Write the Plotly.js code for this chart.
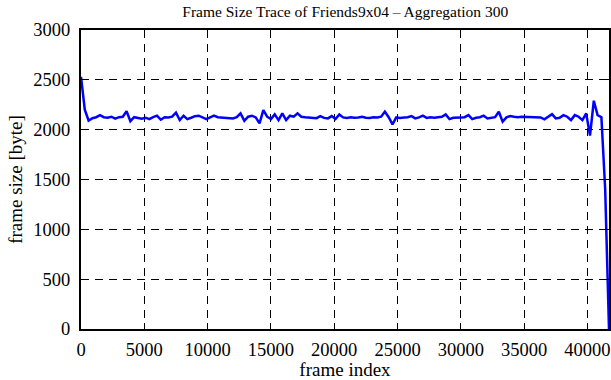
<!DOCTYPE html>
<html>
<head>
<meta charset="utf-8">
<script src="https://cdn.plot.ly/plotly-3.0.1.min.js"></script>
<style>html,body{margin:0;padding:0;background:#fff;}#chart{width:611px;height:380px;}</style>
</head>
<body>
<div id="chart"></div>
<script>
// Aggregated frame size trace (aggregation of 300 frames)
const aggregation = 300;
const frameSizes = [
  2530, 2200, 2090, 2115, 2125, 2145, 2125, 2120, 2130, 2110,
  2125, 2130, 2185, 2085, 2125, 2120, 2110, 2120, 2105, 2125,
  2140, 2100, 2125, 2123, 2130, 2170, 2096, 2140, 2106, 2120,
  2135, 2140, 2123, 2106, 2123, 2140, 2125, 2123, 2118, 2120,
  2113, 2125, 2163, 2088, 2130, 2140, 2123, 2063, 2196, 2130,
  2106, 2153, 2096, 2163, 2096, 2140, 2130, 2163, 2130, 2125,
  2120, 2120, 2115, 2136, 2118, 2113, 2136, 2106, 2153, 2123,
  2118, 2125, 2120, 2123, 2130, 2120, 2118, 2125, 2123, 2130,
  2180, 2125, 2053, 2123, 2118, 2123, 2125, 2136, 2113, 2123,
  2140, 2118, 2125, 2120, 2123, 2130, 2153, 2106, 2120, 2118,
  2123, 2125, 2146, 2106, 2120, 2125, 2140, 2113, 2120, 2125,
  2180, 2080, 2123, 2136, 2130, 2125, 2130, 2128, 2130, 2125,
  2128, 2123, 2103, 2130, 2156, 2113, 2120, 2146, 2130, 2096,
  2146, 2130, 2096, 2163, 1940, 2290, 2146, 2125, 1400, 0
];
const frameIndex = frameSizes.map((_, i) => i * aggregation);

const titleText = 'Frame Size Trace of Friends9x04 \u2013 Aggregation 300';
const xTitle = 'frame index';
const yTitle = 'frame size [byte]';
const xTicks = [0, 5000, 10000, 15000, 20000, 25000, 30000, 35000, 40000];
const yTicks = [0, 500, 1000, 1500, 2000, 2500, 3000];

const font = {family: '"Liberation Serif", "Times New Roman", serif', color: '#000'};

const trace = {
  x: frameIndex, y: frameSizes, type: 'scatter', mode: 'lines',
  line: {color: '#0000ff', width: 2.5}, hoverinfo: 'skip'
};

const axisCommon = {
  showline: true, linecolor: '#000', linewidth: 2, mirror: 'allticks',
  ticks: 'inside', ticklen: 6, tickwidth: 1, tickcolor: '#000',
  showgrid: true, gridcolor: '#000', gridwidth: 1, griddash: '8px,6px',
  zeroline: false, tickfont: Object.assign({size: 18.5}, font)
};

const layout = {
  width: 611, height: 380,
  margin: {l: 81, r: 2, t: 30, b: 51},
  paper_bgcolor: '#fff', plot_bgcolor: '#fff',
  showlegend: false,
  font: font,
  title: {text: titleText, font: Object.assign({size: 15.5}, font), x: 0.565, xanchor: 'center', y: 0.97, yanchor: 'middle'},
  xaxis: Object.assign({}, axisCommon, {
    range: [0, 41700], tickvals: xTicks, ticktext: xTicks.map(String),
    ticklabelstandoff: 3,
    title: {text: xTitle, font: Object.assign({size: 19}, font), standoff: 6}
  }),
  yaxis: Object.assign({}, axisCommon, {
    range: [0, 3000], tickvals: yTicks, ticktext: yTicks.map(String),
    ticklabelstandoff: 5,
    title: {text: yTitle, font: Object.assign({size: 19}, font), standoff: 6}
  })
};

Plotly.newPlot('chart', [trace], layout, {staticPlot: true, displayModeBar: false});
</script>
</body>
</html>
